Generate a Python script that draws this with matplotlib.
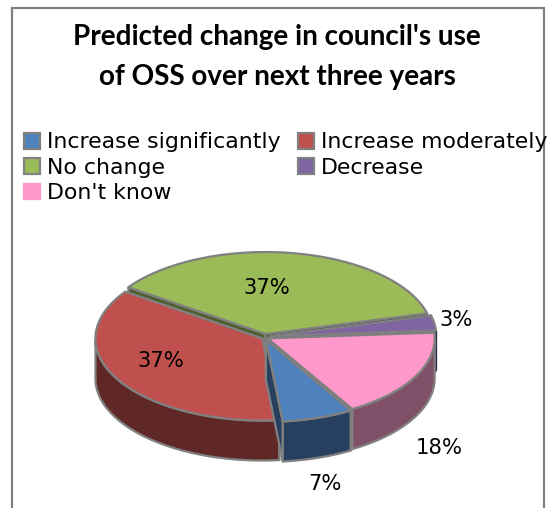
import numpy as np
import matplotlib
matplotlib.use("Agg")
import matplotlib.pyplot as plt
from matplotlib.patches import Polygon, Rectangle, Patch

title = "Predicted change in council's use\nof OSS over next three years"
categories = ["Increase significantly", "Increase moderately", "No change", "Decrease", "Don't know"]
values = [7, 37, 37, 3, 18]
top_colors = ["#4f81bd", "#c0504d", "#9bbb59", "#8064a2", "#ff99cc"]
side_colors = ["#27405f", "#5f2726", "#4e5e2c", "#2c2c4a", "#805068"]
handle_edges = ["#808080", "#808080", "#808080", "#808080", "#ff99cc"]
explodes = [3, 3, 3, 4.5, 3]
label_pos = [(325, 484), (161, 361), (267, 288), (456, 320), (439, 448)]

# pie geometry in pixels
cx, cy = 265, 337
rx, ry = 167, 82
depth = 40
start_angle = -59.5
edge = "#808080"

fig = plt.figure(figsize=(5.49, 5.08), dpi=100)
ax = fig.add_axes([0, 0, 1, 1])
ax.set_xlim(0, 549)
ax.set_ylim(508, 0)
ax.axis("off")

ax.add_patch(Rectangle((11.5, 8), 532, 540, fc="white", ec=edge, lw=1.6, zorder=0))

ax.text(277, 57, title, ha="center", va="center", fontsize=20.1, fontweight="bold",
        family="Lato", linespacing=1.68, color="black")


def rim(ox, oy, a, dz=0):
    a = np.radians(a)
    return np.column_stack([ox + rx * np.cos(a), oy - ry * np.sin(a) + dz])


# slices run clockwise from the start angle
spans = np.array(values) / sum(values) * 360
ends = start_angle - np.cumsum(spans)
starts = ends + spans
slices = []
for i in range(len(values)):
    mid = np.radians((starts[i] + ends[i]) / 2)
    ox = cx + explodes[i] * np.cos(mid)
    oy = cy - explodes[i] * np.sin(mid)
    slices.append((i, starts[i], ends[i], ox, oy))

# paint from the back of the pie to the front
for i, a0, a1, ox, oy in sorted(slices, key=lambda s: s[4]):
    apex = np.array([[ox, oy]])
    arc = np.linspace(a0, a1, 80)
    outer = rim(ox, oy, arc)
    style = dict(ec=edge, lw=1.6, joinstyle="round")
    # cut faces
    for a in (a0, a1):
        p = rim(ox, oy, np.array([a]))
        face = np.array([[ox, oy], p[0], p[0] + [0, depth], [ox, oy + depth]])
        face_style = dict(style, ec=side_colors[i]) if i == 3 else style
        ax.add_patch(Polygon(face, fc=side_colors[i], **face_style))
    # outer wall, only the part facing the viewer
    wall = arc[np.sin(np.radians(arc)) <= 0]
    if len(wall) > 1:
        upper = rim(ox, oy, wall)
        lower = rim(ox, oy, wall, depth)
        ax.add_patch(Polygon(np.vstack([upper, lower[::-1]]), fc=side_colors[i], **style))
    ax.add_patch(Polygon(np.vstack([apex, outer]), fc=top_colors[i], **style))

for v, (x, y) in zip(values, label_pos):
    ax.text(x, y, f"{v}%", ha="center", va="center", fontsize=15.2, color="black")

# legend fills column by column
order = [0, 2, 4, 1, 3]
handles = [Patch(fc=top_colors[i], ec=handle_edges[i], lw=1.6) for i in order]
labels = [categories[i] for i in order]
ax.legend(handles, labels, ncol=2, frameon=False, fontsize=15.8, loc="upper left",
          bbox_to_anchor=(24 / 549, 1 - 132.5 / 508), borderpad=0, borderaxespad=0,
          handlelength=0.72, handleheight=0.72, handletextpad=0.31, columnspacing=0.82,
          labelspacing=0.24, labelcolor="black")

fig.savefig("out.png", dpi=100)
